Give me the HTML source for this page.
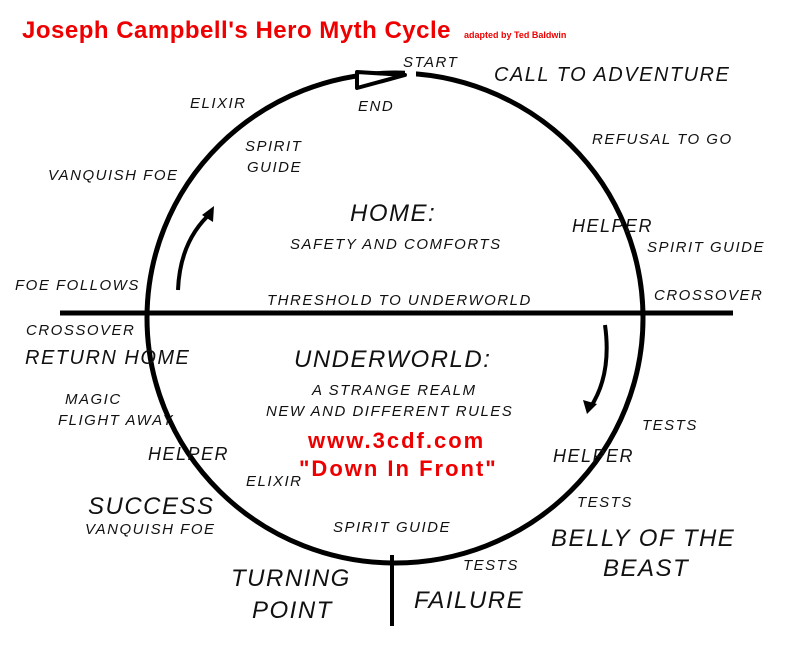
<!DOCTYPE html>
<html><head><meta charset="utf-8"><style>
body{margin:0;background:#fff;}
svg text{font-family:"Liberation Sans",sans-serif;font-style:italic;fill:#111;letter-spacing:1.5px;}
</style></head><body>
<svg width="800" height="640" viewBox="0 0 800 640" xmlns="http://www.w3.org/2000/svg">
<rect width="800" height="640" fill="#fff"/>
<text x="22" y="38" style="font-style:normal;font-weight:bold;fill:#e00;letter-spacing:0.5px" font-size="24">Joseph Campbell's Hero Myth Cycle</text>
<text x="464" y="38" style="font-style:normal;font-weight:bold;fill:#e00;letter-spacing:0" font-size="9">adapted by Ted Baldwin</text>
<ellipse cx="395" cy="318" rx="248" ry="245" fill="none" stroke="#000" stroke-width="5"/>
<rect x="405" y="66" width="11" height="16" fill="#fff"/>
<polygon points="357,72 405,75 357,88" fill="#fff" stroke="#000" stroke-width="4" stroke-linejoin="round"/>
<line x1="60" y1="313" x2="733" y2="313" stroke="#000" stroke-width="5"/>
<line x1="392" y1="555" x2="392" y2="626" stroke="#000" stroke-width="4"/>
<path d="M178 290 Q180 240 212 212" fill="none" stroke="#000" stroke-width="4"/>
<polygon points="214,206 202,215 213,222" fill="#000"/>
<path d="M605 325 Q612 375 590 408" fill="none" stroke="#000" stroke-width="4"/>
<polygon points="587,414 583,400 597,404" fill="#000"/>
<g font-size="15">
<text x="403" y="67">START</text>
<text x="358" y="111">END</text>
<text x="190" y="108">ELIXIR</text>
<text x="245" y="151">SPIRIT</text>
<text x="247" y="172">GUIDE</text>
<text x="48" y="180">VANQUISH FOE</text>
<text x="592" y="144">REFUSAL TO GO</text>
<text x="647" y="252">SPIRIT GUIDE</text>
<text x="15" y="290">FOE FOLLOWS</text>
<text x="290" y="249">SAFETY AND COMFORTS</text>
<text x="267" y="305">THRESHOLD TO UNDERWORLD</text>
<text x="654" y="300">CROSSOVER</text>
<text x="26" y="335">CROSSOVER</text>
<text x="312" y="395">A STRANGE REALM</text>
<text x="266" y="416">NEW AND DIFFERENT RULES</text>
<text x="65" y="404">MAGIC</text>
<text x="58" y="425">FLIGHT AWAY</text>
<text x="642" y="430">TESTS</text>
<text x="246" y="486">ELIXIR</text>
<text x="85" y="534">VANQUISH FOE</text>
<text x="577" y="507">TESTS</text>
<text x="333" y="532">SPIRIT GUIDE</text>
<text x="463" y="570">TESTS</text>
</g>
<g font-size="18">
<text x="572" y="232">HELPER</text>
<text x="148" y="460">HELPER</text>
<text x="553" y="462">HELPER</text>
</g>
<g font-size="20">
<text x="494" y="81">CALL TO ADVENTURE</text>
<text x="25" y="364">RETURN HOME</text>
</g>
<g font-size="24">
<text x="350" y="221">HOME:</text>
<text x="294" y="367">UNDERWORLD:</text>
<text x="88" y="514">SUCCESS</text>
<text x="551" y="546">BELLY OF THE</text>
<text x="603" y="576">BEAST</text>
<text x="231" y="586">TURNING</text>
<text x="252" y="618">POINT</text>
<text x="414" y="608">FAILURE</text>
</g>
<text x="308" y="448" style="font-style:normal;font-weight:bold;fill:#e00;letter-spacing:2px" font-size="22">www.3cdf.com</text>
<text x="299" y="476" style="font-style:normal;font-weight:bold;fill:#e00;letter-spacing:2px" font-size="22">"Down In Front"</text>
</svg>
</body></html>
